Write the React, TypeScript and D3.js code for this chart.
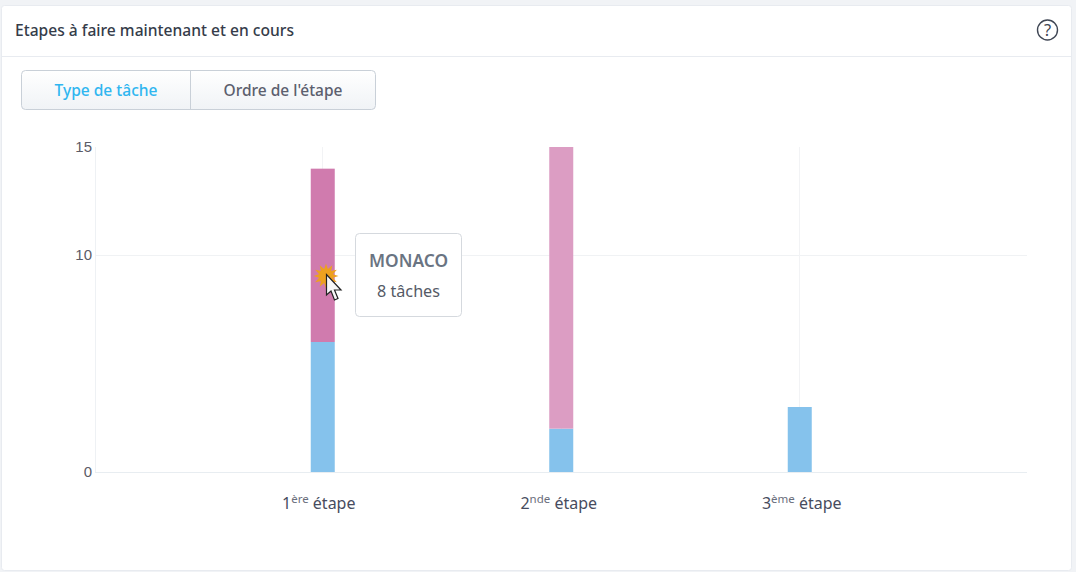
import React from "react";
import * as d3 from "d3";

const categories = ["1", "2", "3"];
const ordinals = ["ère", "nde", "ème"];
const blueValues = [6, 2, 3];
const pinkValues = [8, 13, 0];
const pinkColors = ["#d07bae", "#dc9dc3", "#dc9dc3"];
const yTicks = [0, 10, 15];
const FONT = "'Noto Sans', sans-serif";

export default function App() {
  const x = d3.scaleBand<string>().domain(categories).range([203.5, 919]);
  const y = d3.scaleLinear().domain([0, 15]).range([472, 147]);
  const cx = (c: string) => (x(c) as number) + x.bandwidth() / 2;
  const bw = 24;
  const seriesGen = d3.stack<number>().keys(["blue", "pink"]).value((i, k) => (k === "blue" ? blueValues[i] : pinkValues[i]));
  const stacks = seriesGen(categories.map((_, i) => i));
  const labelDx = [-4, -2.5, 2];
  return (
    <svg width={1076} height={572} style={{ position: "absolute", left: 0, top: 0, display: "block" }}>
      <defs>
        <linearGradient id="btn" x1="0" y1="0" x2="0" y2="1">
          <stop offset="0" stopColor="#ffffff" />
          <stop offset="1" stopColor="#f0f3f6" />
        </linearGradient>
      </defs>
      <rect width={1076} height={572} fill="#f1f3f6" />
      <rect x={1.5} y={5.5} width={1070} height={565} rx={3} fill="#fff" stroke="#e8ebf0" />
      <text x={15} y={36} fontFamily={FONT} fontSize={15.5} fontWeight={500} fill="#353c4a" textLength={279} lengthAdjust="spacingAndGlyphs">Etapes à faire maintenant et en cours</text>
      <line x1={2} x2={1071} y1={56.5} y2={56.5} stroke="#e8ebf0" />
      <circle cx={1047.5} cy={30} r={10} fill="none" stroke="#3f4654" strokeWidth={1.4} />
      <text x={1047.5} y={36} textAnchor="middle" fontFamily={FONT} fontSize={16.5} fill="#3f4654">?</text>

      <rect x={21.5} y={70.5} width={354} height={39} rx={4} fill="url(#btn)" stroke="#c9d0d8" />
      <line x1={190.5} x2={190.5} y1={71} y2={109} stroke="#c9d0d8" />
      <text x={106} y={95.5} textAnchor="middle" fontFamily={FONT} fontSize={16} fontWeight={500} fill="#2fb6f0" textLength={103} lengthAdjust="spacingAndGlyphs">Type de tâche</text>
      <text x={283} y={95.5} textAnchor="middle" fontFamily={FONT} fontSize={16} fontWeight={500} fill="#5c5f6e" textLength={119} lengthAdjust="spacingAndGlyphs">Ordre de l'étape</text>

      {yTicks.map((t) => (
        <g key={t}>
          <line x1={95} x2={1027} y1={Math.floor(y(t)) + 0.5} y2={Math.floor(y(t)) + 0.5} stroke={t === 15 ? "none" : t === 0 ? "#e8edf1" : "#f0f2f4"} />
          <text x={92} y={y(t) + 4.5} textAnchor="end" fontFamily="'Liberation Sans', sans-serif" fontSize={15} fill="#5b5b66">{t}</text>
        </g>
      ))}
      <line x1={95.5} x2={95.5} y1={147} y2={472} stroke="#eef1f4" />
      {categories.map((c) => (
        <line key={c} x1={Math.floor(cx(c)) + 0.5} x2={Math.floor(cx(c)) + 0.5} y1={147} y2={472} stroke="#f2f3f5" />
      ))}

      {stacks.map((s) =>
        s.map((d, i) =>
          d[1] > d[0] ? (
            <rect key={s.key + i} x={cx(categories[i]) - bw / 2} width={bw} y={y(d[1])} height={y(d[0]) - y(d[1])}
              fill={s.key === "blue" ? "#85c2ec" : pinkColors[i]} />
          ) : null
        )
      )}

      {categories.map((c, i) => (
        <text key={c} x={cx(c) + labelDx[i]} y={509} textAnchor="middle" fontFamily={FONT} fontSize={16} fill="#474c5e">
          {c}
          <tspan dy={-6} fontSize={11.5} fill="#6a6e7c">{ordinals[i]}</tspan>
          <tspan dy={6}> étape</tspan>
        </text>
      ))}

      <rect x={355.5} y={233.5} width={106} height={83} rx={4} fill="#fff" stroke="#d5d9de" />
      <text x={408.5} y={267} textAnchor="middle" fontFamily={FONT} fontSize={18} fontWeight={600} fill="#6a7482" textLength={79} lengthAdjust="spacingAndGlyphs">MONACO</text>
      <text x={408.5} y={297} textAnchor="middle" fontFamily={FONT} fontSize={16} fill="#555a66" textLength={63} lengthAdjust="spacingAndGlyphs">8 tâches</text>

      {d3.range(12).map((i) => {
        const a = (i / 12) * 2 * Math.PI;
        const p = d3.path();
        p.moveTo(326 + 6 * Math.cos(a - 0.4), 276 + 6 * Math.sin(a - 0.4));
        p.lineTo(326 + 12.5 * Math.cos(a), 276 + 12.5 * Math.sin(a));
        p.lineTo(326 + 6 * Math.cos(a + 0.4), 276 + 6 * Math.sin(a + 0.4));
        p.closePath();
        return <path key={i} d={p.toString()} fill="#eda11f" />;
      })}
      <circle cx={326} cy={276} r={7} fill="#eda11f" />
      <path d="M326.5 274.5 V295 L331 291 L334.5 300 L338 298.5 L334.5 290 L341 290 Z" fill="#f7f7f7" stroke="#222" strokeWidth={1.2} />
    </svg>
  );
}
